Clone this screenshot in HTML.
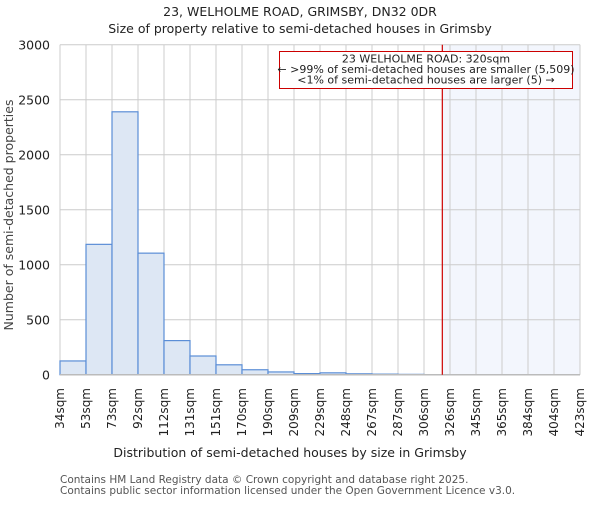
<!DOCTYPE html>
<html><head><meta charset="utf-8"><style>
body{margin:0;background:#fff}
svg text{font-family:"DejaVu Sans","Liberation Sans",sans-serif;fill:#222}
</style></head><body>
<svg id="chart" width="600" height="500" xmlns="http://www.w3.org/2000/svg">
<text x="300" y="16" font-size="12.5" text-anchor="middle">23, WELHOLME ROAD, GRIMSBY, DN32 0DR</text>
<text x="300" y="33" font-size="12.5" text-anchor="middle">Size of property relative to semi-detached houses in Grimsby</text>
<g id="grid"></g>
<g id="bars"></g>
<g id="labels"></g>
<text x="290" y="457" font-size="12.5" text-anchor="middle">Distribution of semi-detached houses by size in Grimsby</text>
<text transform="translate(13,215) rotate(-90)" font-size="12.5" text-anchor="middle" style="fill:#444">Number of semi-detached properties</text>
<text x="60" y="483" font-size="10.5" style="fill:#555">Contains HM Land Registry data © Crown copyright and database right 2025.</text>
<text x="60" y="494" font-size="10.5" style="fill:#555">Contains public sector information licensed under the Open Government Licence v3.0.</text>
</svg>
<script>
const categories=["34sqm","53sqm","73sqm","92sqm","112sqm","131sqm","151sqm","170sqm","190sqm","209sqm","229sqm","248sqm","267sqm","287sqm","306sqm","326sqm","345sqm","365sqm","384sqm","404sqm","423sqm"];
const counts=[125,1185,2390,1105,310,170,90,45,25,10,17,8,5,3,0,0,0,0,0,0];
const yTicks=[0,500,1000,1500,2000,2500,3000];
const binStart=34,binWidth=19.45,propertySize=320;
const NS="http://www.w3.org/2000/svg";
const L=60,R=580,T=44.7,B=374.7,yMax=3000;
const xs=i=>L+i*(R-L)/counts.length;
const xv=v=>L+(v-binStart)/binWidth*(R-L)/counts.length;
const ys=v=>B-v/yMax*(B-T);
function mk(p,tag,a){const e=document.createElementNS(NS,tag);for(const k in a)e.setAttribute(k,a[k]);p.appendChild(e);return e;}
const g=document.getElementById('grid'),bars=document.getElementById('bars'),lab=document.getElementById('labels');
const px=xv(propertySize);
const sh=mk(g,'rect',{x:px,y:T,width:R-px,height:B-T,fill:'#f3f6fd'});


categories.forEach((c,i)=>{const x=xs(i);
 const l=mk(g,'line',{x1:x,x2:x,y1:T,y2:B,stroke:'#ccc','stroke-width':1});
 
 
 const t=mk(lab,'text',{transform:`translate(${x+4},388) rotate(-90)`,'font-size':12,'text-anchor':'end'});
 t.textContent=c;
 
 
});
yTicks.forEach(v=>{const y=ys(v);
 const l=mk(g,'line',{x1:L,x2:R,y1:y,y2:y,stroke:'#ccc','stroke-width':1});
 
 
 const t=mk(lab,'text',{x:L-10,y:y+5,'font-size':12.5,'text-anchor':'end'});
 t.textContent=v;
 
 
});
counts.forEach((v,i)=>{if(v<=0)return;
 const r=mk(bars,'rect',{x:xs(i),y:ys(v),width:xs(i+1)-xs(i),height:B-ys(v),fill:'#dde7f4',stroke:'#5b8ed6','stroke-width':1.2});
 
 
});
const ax=mk(bars,'line',{x1:L,x2:R,y1:B,y2:B,stroke:'#bbb','stroke-width':1.5});


const pl=mk(bars,'line',{x1:px,x2:px,y1:T,y2:B,stroke:'#cc0000','stroke-width':1.2});


const box=mk(bars,'rect',{x:279.5,y:51.5,width:293,height:37,fill:'#fff',stroke:'#cc0000','stroke-width':1});


["23 WELHOLME ROAD: 320sqm","← >99% of semi-detached houses are smaller (5,509)","<1% of semi-detached houses are larger (5) →"].forEach((s,i)=>{
 const t=mk(bars,'text',{x:426,y:62.5+i*10.5,'font-size':11,'text-anchor':'middle'});
 t.textContent=s;
 
 
});
</script>
</body></html>
